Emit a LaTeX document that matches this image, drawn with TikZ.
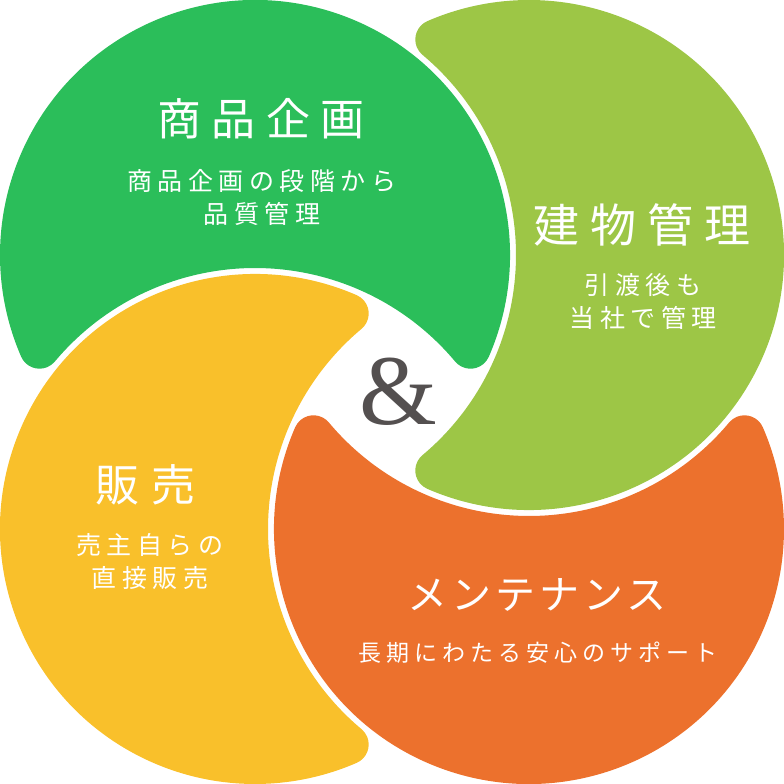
\documentclass[tikz,border=0pt]{standalone}
\usepackage{fontspec}
\setmainfont{Liberation Serif}
\newfontfamily\jptitle[LetterSpace=24]{Noto Sans CJK JP}
\newfontfamily\jpsub[LetterSpace=22]{Noto Sans CJK JP}

\definecolor{planGreen}{HTML}{2BBE5A}
\definecolor{buildGreen}{HTML}{9DC646}
\definecolor{saleYellow}{HTML}{F9C02B}
\definecolor{maintOrange}{HTML}{EC712D}
\definecolor{ampGray}{HTML}{545050}

\tikzset{
    heading/.style={text=white, inner sep=0pt, font=\jptitle\fontsize{44}{50}\selectfont},
    blurb/.style={text=white, inner sep=0pt, align=center, font=\jpsub\fontsize{25}{33}\selectfont},
    amp/.style={text=ampGray, inner sep=0pt, font=\fontsize{100}{100}\selectfont}
}

\begin{document}
\begin{tikzpicture}[x=1pt,y=1pt]
    \def\R{255}   % radius of a leaf
    \def\Rb{261}  % radius of the bite (leaf + white gap)
    \def\f{20}    % radius of the rounded tips

    \useasboundingbox (-392,-392) rectangle (392,392);

    % Draw the four leaves, each one bitten by the next
    \foreach \ang/\col in {0/planGreen, -90/buildGreen, -180/maintOrange, -270/saleYellow}
        \fill[\col, rotate=\ang] (-137,137) ++(-23.5:\R)
            arc[start angle=-23.5, end angle=203.5, radius=\R]
            arc[start angle=203.5, end angle=320.08, radius=\f]
            arc[start angle=140.08, end angle=39.92, radius=\Rb]
            arc[start angle=219.92, end angle=336.5, radius=\f] -- cycle;

    % Titles and texts
    \node[heading] (plan) at (-131,273) {商品企画};
    \node[blurb] (planText) at (-130,194) {商品企画の段階から\\品質管理};

    \node[heading, font=\jptitle\fontsize{46}{50}\selectfont] (build) at (250,167) {建物管理};
    \node[blurb] (buildText) at (251,90) {引渡後も\\当社で管理};

    \node[heading] (sale) at (-246,-93) {販\hspace{12pt}売};
    \node[blurb] (saleText) at (-242,-170) {売主自らの\\直接販売};

    \node[heading, font=\jptitle\fontsize{40}{50}\selectfont\addfontfeature{LetterSpace=10}] (maint) at (145,-203) {メンテナンス};
    \node[blurb, font=\jpsub\fontsize{23}{33}\selectfont] (maintText) at (146,-261) {長期にわたる安心のサポート};

    % Draw the ampersand in the middle
    \node[amp] (and) at (6,0) {\&};
\end{tikzpicture}
\end{document}
